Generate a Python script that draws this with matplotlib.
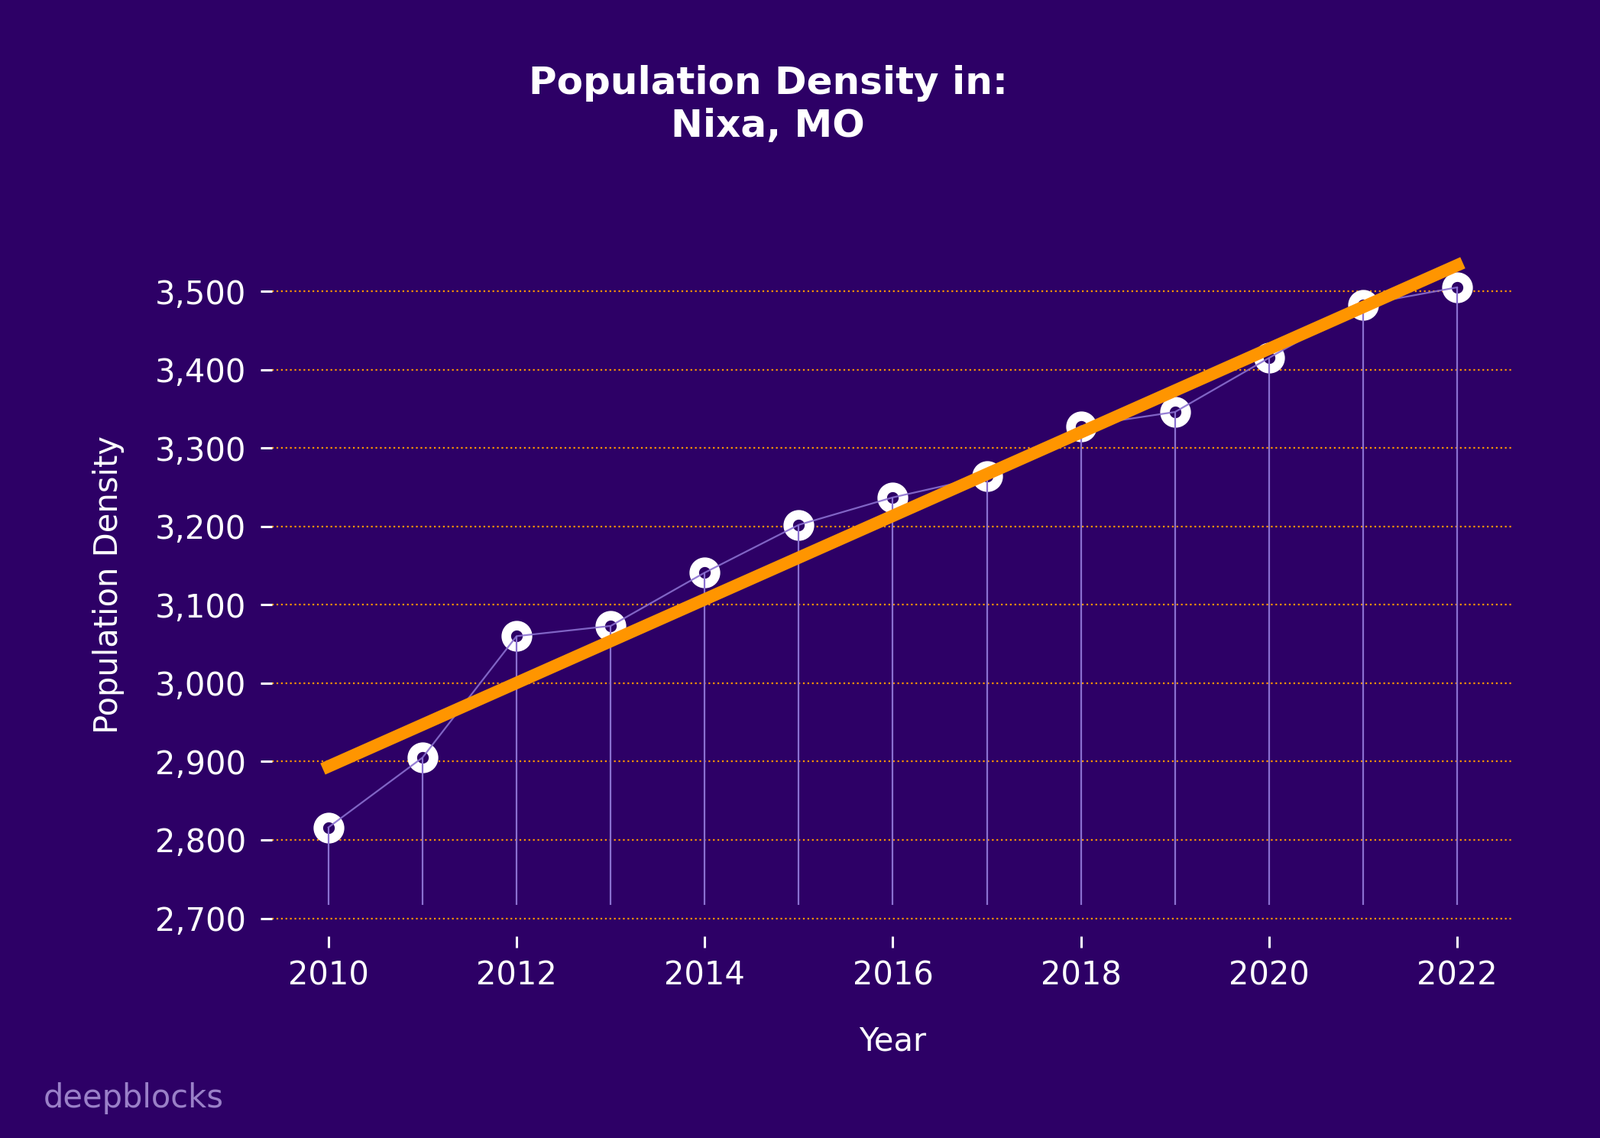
import numpy as np
import matplotlib
matplotlib.use('Agg')
import matplotlib.pyplot as plt
from matplotlib.ticker import FuncFormatter

years = [2010, 2011, 2012, 2013, 2014, 2015, 2016, 2017, 2018, 2019, 2020, 2021, 2022]
density = [2816, 2905, 3060, 3073, 3141, 3202, 3237, 3264, 3328, 3346, 3415, 3483, 3505]
xticks = [2010, 2012, 2014, 2016, 2018, 2020, 2022]
yticks = [2700, 2800, 2900, 3000, 3100, 3200, 3300, 3400, 3500]

bg = '#2d0066'
stem_color = '#8a70d0'
orange = '#ff9500'

fig = plt.figure(figsize=(10.47, 7.445), dpi=200, facecolor=bg)
ax = fig.add_axes([0.170, 0.177, 0.776, 0.618], facecolor=bg)

x = np.array(years)
y = np.array(density)

# markers first, then lines over them
ax.plot(x, y, linestyle='none', marker='o', markersize=10, markeredgewidth=4.5,
        markerfacecolor=bg, markeredgecolor='white', zorder=2)
ax.plot(x, y, color=stem_color, linewidth=0.8, alpha=0.9, zorder=3)
ax.vlines(x, y.min() * 0.965, y, color=stem_color, linewidth=0.8, zorder=3)

# trend line
coef = np.polyfit(x, y, 1)
ax.plot(x, np.polyval(coef, x), color=orange, linewidth=5.8, zorder=4)

ax.set_xticks(xticks)
ax.set_yticks(yticks)
ax.yaxis.set_major_formatter(FuncFormatter(lambda v, p: f'{int(v):,}'))
ax.grid(axis='y', color=orange, linestyle=':', linewidth=0.8)
ax.set_axisbelow(True)
for s in ax.spines.values():
    s.set_visible(False)
ax.tick_params(colors='white', labelsize=15, length=5.3, width=1.1)
ax.tick_params(axis='y', pad=7)
ax.tick_params(axis='x', pad=5.5)

ax.set_xlabel('Year', color='white', fontsize=15, labelpad=16)
ax.set_ylabel('Population Density', color='white', fontsize=15, labelpad=14)

fig.text(0.48, 0.908, 'Population Density in:\nNixa, MO', color='white',
         fontsize=18, fontweight='bold', ha='center', va='center', linespacing=1.2)
fig.text(0.027, 0.035, 'deepblocks', color='#9a80c8', fontsize=15,
         ha='left', va='center')

fig.savefig('out.png', dpi=200, facecolor=bg)
